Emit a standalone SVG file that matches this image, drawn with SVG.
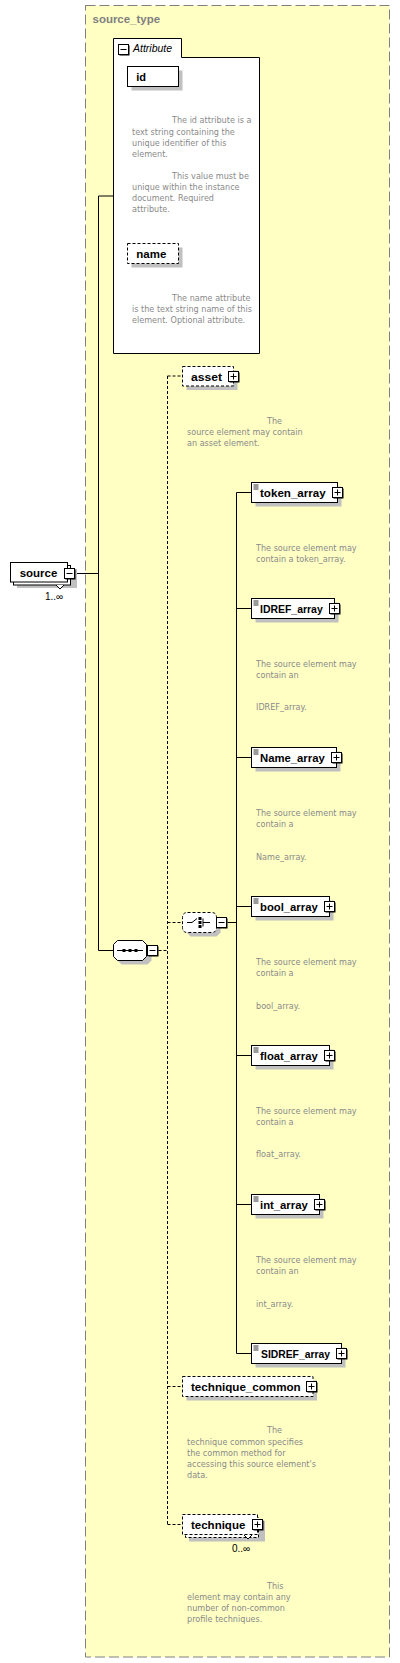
<svg xmlns="http://www.w3.org/2000/svg" width="400" height="1663" viewBox="0 0 400 1663">
<style>
.lbl{font-family:"Liberation Sans",Arial,sans-serif;font-size:11px;font-weight:bold;fill:#000}
.ttl{font-family:"Liberation Sans",Arial,sans-serif;font-size:11px;font-weight:bold;fill:#808080}
.doc{font-family:"DejaVu Sans","Liberation Sans",sans-serif;font-size:8.1px;fill:#8a8a8a}
.occ{font-family:"Liberation Sans",Arial,sans-serif;font-size:10px;fill:#000}
.box{fill:#fff;stroke:#000;stroke-width:1}
.opt{fill:#fff;stroke:#000;stroke-width:1;stroke-dasharray:3,2}
.shd{fill:#c0c0c0;stroke:none}
.ln{fill:none;stroke:#000;stroke-width:1}
.dl{fill:none;stroke:#000;stroke-width:1;stroke-dasharray:3,2}
</style>
<defs>
<g id="plus"><rect x="1" y="1" width="10" height="10" fill="#000"/><rect x="0" y="0" width="10" height="10" fill="#fff" stroke="#000"/><path d="M2,5H8M5,2V8" stroke="#000" fill="none"/></g>
<g id="minus"><rect x="1" y="1" width="10" height="10" fill="#000"/><rect x="0" y="0" width="10" height="10" fill="#fff" stroke="#000"/><path d="M2,5H8" stroke="#000" fill="none"/></g>
<path id="lines" d="M0,0.5H5M0,2.5H5M0,4.5H5" stroke="#000" stroke-width="0.8" fill="none"/>
</defs>

<g id="source_type">
<rect x="85.5" y="5.5" width="304" height="1651.5" fill="#ffffc4" stroke="#808080" stroke-width="1" stroke-dasharray="10,4"/>
<text class="ttl" x="92.5" y="23" textLength="67.6" lengthAdjust="spacingAndGlyphs">source_type</text>
</g>

<g id="connectors">
<path class="ln" d="M75.5,573.5H98.5M98.5,196V950.5M98.5,196H113.5M98.5,950.5H113.5"/>
<path class="dl" d="M158.5,950.5H167.5M167.5,376V1524.5M167.5,376H182.5M167.5,922.5H182.5M167.5,1386.5H182.5M167.5,1524.5H182.5"/>
<path class="ln" d="M227.5,922.5H236.5M236.5,492.5V1353.5M236.5,492.5H251.5M236.5,608.5H251.5M236.5,757.5H251.5M236.5,906.5H251.5M236.5,1055.5H251.5M236.5,1204.5H251.5M236.5,1353.5H251.5"/>
</g>

<g id="attributes">
<path d="M113.5,38.5H181.5V57.5H259.5V353.5H113.5Z" fill="#fff" stroke="#000"/>
<use href="#minus" x="118.5" y="44.5"/>
<text x="133" y="52" font-family="Liberation Sans,Arial,sans-serif" font-size="10.5" font-style="italic" fill="#000">Attribute</text>
</g>

<g id="attr_id">
<rect class="shd" x="131.5" y="70.5" width="51" height="20"/>
<rect class="box" x="127.5" y="66.5" width="51" height="20"/>
<text class="lbl" x="136.3" y="80.5">id</text>
<text class="doc" x="172" y="123">The id attribute is a</text>
<text class="doc" x="132" y="134.5">text string containing the</text>
<text class="doc" x="132" y="145.5">unique identifier of this</text>
<text class="doc" x="132" y="156.5">element.</text>
<text class="doc" x="172" y="178.5">This value must be</text>
<text class="doc" x="132" y="189.5">unique within the instance</text>
<text class="doc" x="132" y="200.5">document. Required</text>
<text class="doc" x="132" y="211.5">attribute.</text>
</g>

<g id="attr_name">
<rect class="shd" x="131.5" y="247.5" width="51" height="20"/>
<rect class="opt" x="127.5" y="243.5" width="51" height="20"/>
<text class="lbl" x="136.3" y="257.5" textLength="30" lengthAdjust="spacingAndGlyphs">name</text>
<text class="doc" x="172" y="300.5">The name attribute</text>
<text class="doc" x="132" y="311.5">is the text string name of this</text>
<text class="doc" x="132" y="322.5">element. Optional attribute.</text>
</g>

<g id="source">
<rect class="shd" x="17" y="569" width="60" height="19"/>
<rect class="box" x="13.5" y="565.5" width="57" height="19.5"/>
<rect class="box" x="10.5" y="562.5" width="57" height="19.5"/>
<path d="M56,585L60,589L64,585" fill="#fff" stroke="#000"/>
<use href="#minus" x="64.5" y="568.5"/>
<text class="lbl" x="19.7" y="577" textLength="37.6" lengthAdjust="spacingAndGlyphs">source</text>
<text class="occ" x="45" y="600">1..∞</text>
</g>

<g id="sequence">
<path class="shd" d="M121.5,944.5H147.5L151.5,948.5V960.5L147.5,964.5H121.5L117.5,960.5V948.5Z"/>
<path d="M117.5,940.5H142.5L146.5,944.5V956.5L142.5,960.5H117.5L113.5,956.5V944.5Z" fill="#fff" stroke="#000"/>
<path d="M117,950.5H143" stroke="#000" fill="none"/>
<rect x="122.5" y="949" width="3" height="3" fill="#000"/>
<rect x="128.5" y="949" width="3" height="3" fill="#000"/>
<rect x="134.5" y="949" width="3" height="3" fill="#000"/>
<use href="#minus" x="147.5" y="945.5"/>
</g>

<g id="choice">
<path class="shd" d="M190.5,916.5H216.5L220.5,920.5V932.5L216.5,936.5H190.5L186.5,932.5V920.5Z"/>
<path d="M187.5,912.5H211.5Q216.5,912.5 216.5,917.5V927.5Q216.5,932.5 211.5,932.5H187.5Q182.5,932.5 182.5,927.5V917.5Q182.5,912.5 187.5,912.5Z" fill="#fff" stroke="#000" stroke-dasharray="3,2"/>
<path d="M187,922.5H192L197,918.5M203,918.5V926.5M203,922.5H210" stroke="#000" fill="none"/>
<rect x="198.5" y="917" width="3" height="3" fill="#000"/>
<rect x="198.5" y="921" width="3" height="3" fill="#000"/>
<rect x="198.5" y="925" width="3" height="3" fill="#000"/>
<use href="#minus" x="216.5" y="917.5"/>
</g>

<g id="asset">
<rect class="shd" x="186.5" y="370.5" width="51" height="19.5"/>
<rect class="opt" x="182.5" y="366.5" width="51" height="19.5"/>
<use href="#plus" x="228.5" y="371.5"/>
<text class="lbl" x="191" y="380.5" textLength="31" lengthAdjust="spacingAndGlyphs">asset</text>
<text class="doc" x="267" y="423.5">The</text>
<text class="doc" x="187" y="434.5">source element may contain</text>
<text class="doc" x="187" y="445.5">an asset element.</text>
</g>

<g id="token_array">
<rect class="shd" x="255.5" y="486.5" width="86" height="20"/>
<rect class="box" x="251.5" y="482.5" width="86" height="20"/>
<use href="#lines" x="253.5" y="484.5"/>
<use href="#plus" x="332.5" y="487.5"/>
<text class="lbl" x="260" y="496.5" textLength="65.7" lengthAdjust="spacingAndGlyphs">token_array</text>
<text class="doc" x="256" y="550.5">The source element may</text>
<text class="doc" x="256" y="561.5">contain a token_array.</text>
</g>

<g id="IDREF_array">
<rect class="shd" x="255.5" y="602.5" width="83" height="20"/>
<rect class="box" x="251.5" y="598.5" width="83" height="20"/>
<use href="#lines" x="253.5" y="600.5"/>
<use href="#plus" x="329.5" y="603.5"/>
<text class="lbl" x="260" y="612.5" textLength="62.7" lengthAdjust="spacingAndGlyphs">IDREF_array</text>
<text class="doc" x="256" y="666.5">The source element may</text>
<text class="doc" x="256" y="677.5">contain an</text>
<text class="doc" x="256" y="710">IDREF_array.</text>
</g>

<g id="Name_array">
<rect class="shd" x="255.5" y="751.5" width="85" height="20"/>
<rect class="box" x="251.5" y="747.5" width="85" height="20"/>
<use href="#lines" x="253.5" y="749.5"/>
<use href="#plus" x="331.5" y="752.5"/>
<text class="lbl" x="260" y="761.5" textLength="64.7" lengthAdjust="spacingAndGlyphs">Name_array</text>
<text class="doc" x="256" y="815.5">The source element may</text>
<text class="doc" x="256" y="826.5">contain a</text>
<text class="doc" x="256" y="859.5">Name_array.</text>
</g>

<g id="bool_array">
<rect class="shd" x="255.5" y="900.5" width="78" height="20"/>
<rect class="box" x="251.5" y="896.5" width="78" height="20"/>
<use href="#lines" x="253.5" y="898.5"/>
<use href="#plus" x="324.5" y="901.5"/>
<text class="lbl" x="260" y="910.5" textLength="57.7" lengthAdjust="spacingAndGlyphs">bool_array</text>
<text class="doc" x="256" y="965">The source element may</text>
<text class="doc" x="256" y="976">contain a</text>
<text class="doc" x="256" y="1008.5">bool_array.</text>
</g>

<g id="float_array">
<rect class="shd" x="255.5" y="1049.5" width="78" height="20"/>
<rect class="box" x="251.5" y="1045.5" width="78" height="20"/>
<use href="#lines" x="253.5" y="1047.5"/>
<use href="#plus" x="324.5" y="1050.5"/>
<text class="lbl" x="260" y="1059.5" textLength="57.7" lengthAdjust="spacingAndGlyphs">float_array</text>
<text class="doc" x="256" y="1114">The source element may</text>
<text class="doc" x="256" y="1125">contain a</text>
<text class="doc" x="256" y="1157">float_array.</text>
</g>

<g id="int_array">
<rect class="shd" x="255.5" y="1198.5" width="68" height="20"/>
<rect class="box" x="251.5" y="1194.5" width="68" height="20"/>
<use href="#lines" x="253.5" y="1196.5"/>
<use href="#plus" x="314.5" y="1199.5"/>
<text class="lbl" x="260" y="1208.5" textLength="47.7" lengthAdjust="spacingAndGlyphs">int_array</text>
<text class="doc" x="256" y="1262.5">The source element may</text>
<text class="doc" x="256" y="1273.5">contain an</text>
<text class="doc" x="256" y="1306.5">int_array.</text>
</g>

<g id="SIDREF_array">
<rect class="shd" x="255.5" y="1347.5" width="90" height="20"/>
<rect class="box" x="251.5" y="1343.5" width="90" height="20"/>
<use href="#lines" x="253.5" y="1345.5"/>
<use href="#plus" x="336.5" y="1348.5"/>
<text class="lbl" x="261" y="1357.5" textLength="69" lengthAdjust="spacingAndGlyphs">SIDREF_array</text>
</g>

<g id="technique_common">
<rect class="shd" x="186.5" y="1380.5" width="130.5" height="20"/>
<rect class="opt" x="182.5" y="1376.5" width="130.5" height="20"/>
<use href="#plus" x="306.5" y="1381.5"/>
<text class="lbl" x="191" y="1390.5" textLength="109.7" lengthAdjust="spacingAndGlyphs">technique_common</text>
<text class="doc" x="267" y="1433">The</text>
<text class="doc" x="187" y="1444.5">technique common specifies</text>
<text class="doc" x="187" y="1455.5">the common method for</text>
<text class="doc" x="187" y="1466.5">accessing this source element's</text>
<text class="doc" x="187" y="1477.5">data.</text>
</g>

<g id="technique">
<rect class="shd" x="189" y="1521" width="76" height="20.5"/>
<rect class="opt" x="185.5" y="1517.5" width="73" height="20"/>
<rect class="opt" x="182.5" y="1514.5" width="75" height="20"/>
<path d="M244,1535L248,1539L252,1535" fill="#fff" stroke="#000"/>
<use href="#plus" x="252.5" y="1519.5"/>
<text class="lbl" x="191" y="1528.5" textLength="54.3" lengthAdjust="spacingAndGlyphs">technique</text>
<text class="occ" x="232" y="1552">0..∞</text>
<text class="doc" x="267" y="1588.5">This</text>
<text class="doc" x="187" y="1599.5">element may contain any</text>
<text class="doc" x="187" y="1610.5">number of non-common</text>
<text class="doc" x="187" y="1621.5">profile techniques.</text>
</g>
</svg>
